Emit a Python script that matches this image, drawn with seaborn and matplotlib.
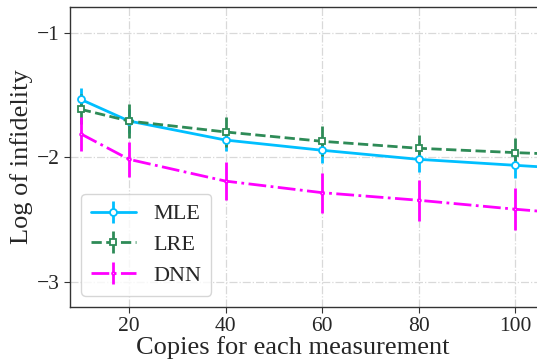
import numpy as np
import seaborn as sns
import matplotlib
matplotlib.use("Agg")
import matplotlib.pyplot as plt

copies = [10, 20, 40, 60, 80, 100, 120]

mle = [-1.533, -1.707, -1.860, -1.942, -2.015, -2.063, -2.110]
mle_err = [0.09, 0.10, 0.09, 0.10, 0.10, 0.10, 0.10]

lre = [-1.613, -1.707, -1.795, -1.870, -1.926, -1.961, -1.990]
lre_err = [0.12, 0.14, 0.12, 0.12, 0.11, 0.12, 0.12]

dnn = [-1.810, -2.015, -2.190, -2.283, -2.344, -2.416, -2.480]
dnn_err = [0.135, 0.14, 0.155, 0.16, 0.163, 0.167, 0.17]

sns.set_style("ticks")
plt.rcParams["font.family"] = ["Liberation Serif", "DejaVu Serif"]
plt.rcParams["mathtext.fontset"] = "stix"
plt.rcParams["axes.unicode_minus"] = True

fig = plt.figure(figsize=(5.37, 3.64), dpi=100)
ax = fig.add_axes([0.1304, 0.1574, 0.890, 0.8234])

series = [
    ("MLE", mle, mle_err, "#00BFFF", "-", "o", 5),
    ("LRE", lre, lre_err, "#2E8B57", "--", "s", 5),
    ("DNN", dnn, dnn_err, "#FF00FF", "-.", ".", 4),
]
for name, vals, err, color, ls, marker, ms in series:
    ax.errorbar(copies, vals, yerr=err, color=color, linestyle=ls, linewidth=2,
                marker=marker, markersize=ms, markerfacecolor="white",
                markeredgecolor=color, markeredgewidth=1.3,
                elinewidth=2, capsize=0, label=name)

ax.set_xlim(7.77, 106.8)
ax.set_ylim(-3.2, -0.79)
ax.set_xticks([20, 40, 60, 80, 100])
ax.set_yticks([-3, -2, -1])
ax.grid(True, linestyle="-.", color="#d9d9d9", linewidth=0.9)
ax.tick_params(labelsize=15.5, length=4, color="#333333")
for s in ax.spines.values():
    s.set_color("#333333")
    s.set_linewidth(1.0)

ax.set_xlabel("Copies for each measurement", fontsize=19)
ax.xaxis.set_label_coords(0.465, -0.098)
ax.set_ylabel("Log of infidelity", fontsize=19, labelpad=3)
ax.legend(loc="lower left", fontsize=16, frameon=True, handlelength=2.0,
          borderpad=0.45, labelspacing=0.45, bbox_to_anchor=(0.0, 0.0))

fig.savefig("out.png", dpi=100)
